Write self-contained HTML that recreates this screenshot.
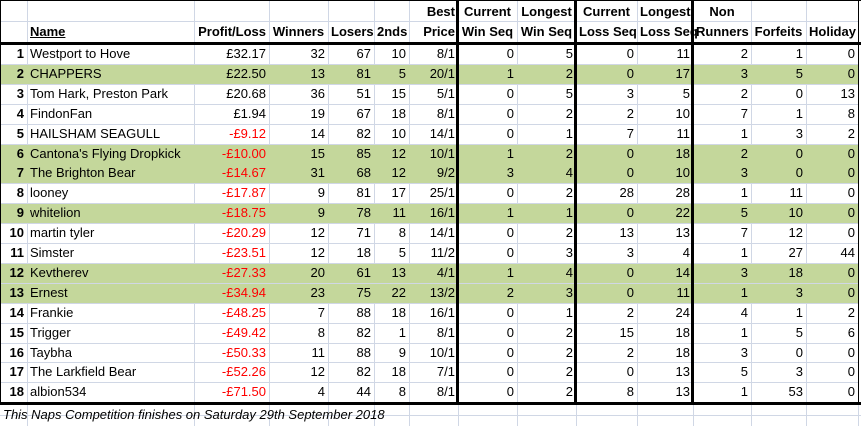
<!DOCTYPE html>
<html><head><meta charset="utf-8">
<style>
body{margin:0;background:#fff;}
#t{position:relative;width:861px;height:426px;overflow:hidden;font-family:"Liberation Sans",sans-serif;font-size:13px;color:#000;}
.c{position:absolute;box-sizing:border-box;white-space:nowrap;line-height:20px;padding:0 3px;overflow:visible;}
.ln{position:absolute;background:#d0d7e5;}
.bk{position:absolute;background:#000;}
</style></head><body>
<div id="t"></div>
<script>
const names=["Westport to Hove","CHAPPERS","Tom Hark, Preston Park","FindonFan","HAILSHAM SEAGULL","Cantona's Flying Dropkick","The Brighton Bear","looney","whitelion","martin tyler","Simster","Kevtherev","Ernest","Frankie","Trigger","Taybha","The Larkfield Bear","albion534"];
const profit=[32.17,22.50,20.68,1.94,-9.12,-10.00,-14.67,-17.87,-18.75,-20.29,-23.51,-27.33,-34.94,-48.25,-49.42,-50.33,-52.26,-71.50];
const winners=[32,13,36,19,14,15,31,9,9,12,12,20,23,7,8,11,12,4];
const losers=[67,81,51,67,82,85,68,81,78,71,18,61,75,88,82,88,82,44];
const seconds=[10,5,15,18,10,12,12,17,11,8,5,13,22,18,1,9,18,8];
const best=["8/1","20/1","5/1","8/1","14/1","10/1","9/2","25/1","16/1","14/1","11/2","4/1","13/2","16/1","8/1","10/1","7/1","8/1"];
const curWin=[0,1,0,0,0,1,3,0,1,0,0,1,2,0,0,0,0,0];
const longWin=[5,2,5,2,1,2,4,2,1,2,3,4,3,1,2,2,2,2];
const curLoss=[0,0,3,2,7,0,0,28,0,13,3,0,0,2,15,2,0,8];
const longLoss=[11,17,5,10,11,18,10,28,22,13,4,14,11,24,18,18,13,13];
const nonRun=[2,3,2,7,1,2,3,1,5,7,1,3,1,4,1,3,5,1];
const forfeits=[1,5,0,1,3,0,0,11,10,12,27,18,3,1,5,0,3,53];
const holiday=[0,0,13,8,2,0,0,0,0,0,44,0,0,2,6,0,0,0];
const green=[2,6,7,9,12,13];

const edges=[0,27,194,269,328,374,409,458,517,576,637,693,751,806,858];
const h1=["","","","","","","Best","Current","Longest","Current","Longest","Non","",""];
const h2=["","Name","Profit/Loss","Winners","Losers","2nds","Price","Win Seq","Win Seq","Loss Seq","Loss Seq","Runners","Forfeits","Holiday"];
const colNames=["rank","name","profit-loss","winners","losers","seconds","best-price","current-win-seq","longest-win-seq","current-loss-seq","longest-loss-seq","non-runners","forfeits","holiday"];
const T=document.getElementById('t');
const RT=44, RH=19.9;
function rowTop(i){return RT+i*RH;}
function div(cls,x,y,w,h,txt,style){const d=document.createElement('div');d.className=cls;d.style.left=x+'px';d.style.top=y+'px';d.style.width=w+'px';d.style.height=h+'px';if(txt!==undefined)d.textContent=txt;if(style)d.style.cssText+=style;T.appendChild(d);return d;}
// green fills
green.forEach(r=>{const d=div('c',0,rowTop(r-1),858,RH+0.5,undefined,'background:#c4d79b;');

});
// gridlines horizontal
for(let i=0;i<=18;i++){const y=rowTop(i);const d=div('ln',0,Math.round(y),858,1);

}
div('ln',0,21,858,1);
div('ln',0,415,861,1);
// vertical gridlines
edges.forEach((x,k)=>{if(k==0)return;const d=div('ln',x,0,1,426);

});
// redraw green over internal vertical gridlines
green.forEach(r=>{const d=div('c',1,Math.round(rowTop(r-1))+1,857,Math.round(RH)-1,undefined,'background:#c4d79b;');

});
// headers
for(let k=0;k<14;k++){const x=edges[k],w=edges[k+1]-x;
const al=(k==1)?'left':(k==2?'right':'center');
if(h1[k]){const d=div('c',x,0,w,21,h1[k],'font-weight:bold;text-align:'+(k==6?'right':'center')+';line-height:23px;');

}
if(h2[k]){const d=div('c',x,21,w,21,h2[k],'font-weight:bold;line-height:21px;text-align:'+(k==1?'left':(k==2||k==6?'right':'center'))+(k==1?';text-decoration:underline;':''));

}}
// data
const cols=[null,names,profit,winners,losers,seconds,best,curWin,longWin,curLoss,longLoss,nonRun,forfeits,holiday];
for(let i=0;i<18;i++){for(let k=0;k<14;k++){const x=edges[k],w=edges[k+1]-x;let txt,st='text-align:right;';
if(k==0){txt=String(i+1);st+='font-weight:bold;';}
else if(k==1){txt=names[i];st='text-align:left;';}
else if(k==2){const v=profit[i];txt=(v<0?'-£':'£')+Math.abs(v).toFixed(2);if(v<0)st+='color:#ff0000;';}
else txt=String(cols[k][i]);
const d=div('c',x,rowTop(i),w,RH,txt,st);

}}
// footer
const f=div('c',0,404,400,22,'This Naps Competition finishes on Saturday 29th September 2018','font-style:italic;line-height:22px;');


// black borders
[[0,0,861,1],[0,42,861,3],[0,402,861,3],[0,0,1,404],[456,0,3,404],[574,0,3,404],[691,0,3,404],[858,0,1,404]].forEach(a=>{const d=div('bk',a[0],a[1],a[2],a[3]);

});
</script>
</body></html>
